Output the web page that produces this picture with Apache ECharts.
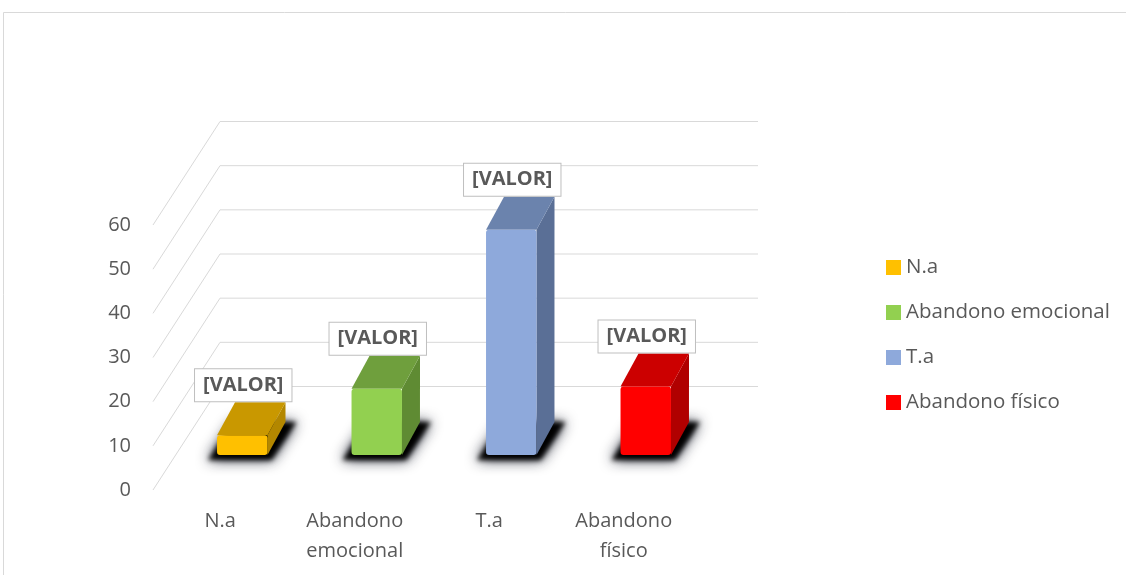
<!DOCTYPE html>
<html>
<head>
<meta charset="utf-8">
<script src="https://cdn.jsdelivr.net/npm/echarts@6/dist/echarts.min.js"></script>
<style>
  html, body { margin: 0; padding: 0; background: #fff; }
  #chart { width: 1126px; height: 575px; }
</style>
</head>
<body>
<div id="chart"></div>
<script>
  const cats = ['N.a', 'Abandono emocional', 'T.a', 'Abandono físico'];
  const axisLabels = ['N.a', 'Abandono\nemocional', 'T.a', 'Abandono\nfísico'];
  const values = [4.5, 15, 51, 15.5];
  const yTicks = [0, 10, 20, 30, 40, 50, 60];
  const frontColors = ['#FFC000', '#92D050', '#8EA9DB', '#FF0000'];
  const topColors = ['#C99800', '#6F9F3D', '#6B83AD', '#CC0000'];
  const sideColors = ['#B38700', '#5F8B33', '#5A6F96', '#B00000'];

  // oblique projection: front plane -> back wall, and bar placement / depth
  const WALL = [67, -103.5];
  const SHIFT = [22, -35];
  const DEPTH = [18, -33];
  const FONT = '"Open Sans", "Noto Sans", sans-serif';
  const FAR = 3000; // draw shadow shape off screen, keep only its blur

  let chart = echarts.init(document.getElementById('chart'));

  function renderWall(params, api) {
    const cs = params.coordSys;
    const p = api.coord([0, api.value(1)]);
    const fx = cs.x, fy = p[1];
    return {
      type: 'polyline',
      shape: {
        points: [[fx, fy], [fx + WALL[0], fy + WALL[1]], [cs.x + cs.width + WALL[0], fy + WALL[1]]]
      },
      style: { stroke: '#D9D9D9', lineWidth: 1, fill: null },
      silent: true
    };
  }

  function renderBar(params, api, k) {
    const i = api.value(0), v = api.value(1);
    const base = api.coord([i, 0]);
    const top = api.coord([i, v]);
    const band = api.size([1, 0])[0];
    const w = band * 0.375;
    const xl = base[0] - w / 2 + SHIFT[0];
    const xr = xl + w;
    const yb = base[1] + SHIFT[1];
    const yt = top[1] + SHIFT[1];
    const dx = DEPTH[0], dy = DEPTH[1];
    const sh = [[xl - 9, yb + 5], [xr + 4, yb + 5], [xr + dx + 11, yb + dy], [xl + dx - 2, yb + dy]];
    return {
      type: 'group',
      children: [
        {
          type: 'polygon',
          shape: { points: sh.map(p => [p[0] + FAR, p[1]]) },
          style: { fill: '#000', shadowBlur: 14, shadowColor: 'rgba(10,14,30,0.9)', shadowOffsetX: -FAR }
        },
        {
          type: 'polygon',
          shape: { points: sh.map(p => [p[0] + FAR, p[1]]) },
          style: { fill: '#000', shadowBlur: 5, shadowColor: 'rgba(0,0,0,1)', shadowOffsetX: -FAR }
        },
        {
          type: 'polygon',
          shape: { points: [[xr, yt], [xr + dx, yt + dy], [xr + dx, yb + dy], [xr, yb]] },
          style: { fill: sideColors[k] }
        },
        {
          type: 'polygon',
          shape: { points: [[xl, yt], [xl + dx, yt + dy], [xr + dx, yt + dy], [xr, yt]] },
          style: { fill: topColors[k] }
        },
        {
          type: 'rect',
          shape: { x: xl, y: yt, width: w, height: yb - yt, r: 3 },
          style: { fill: frontColors[k] }
        },
        {
          type: 'text',
          style: {
            text: '[VALOR]',
            x: base[0] + SHIFT[0] + 1,
            y: yt - 50,
            align: 'center',
            verticalAlign: 'middle',
            font: 'bold 20px ' + FONT,
            fill: '#595959',
            backgroundColor: '#fff',
            borderColor: '#BFBFBF',
            borderWidth: 1,
            padding: [6, 8]
          }
        }
      ]
    };
  }

  let option = {
    backgroundColor: '#fff',
    animation: false,
    graphic: [{
      type: 'rect',
      shape: { x: 3.5, y: 12.5, width: 1200, height: 700 },
      style: { fill: null, stroke: '#D9D9D9', lineWidth: 1 },
      silent: true
    }],
    legend: {
      data: cats,
      orient: 'vertical',
      left: 881,
      top: 250,
      icon: 'rect',
      itemWidth: 15,
      itemHeight: 15,
      itemGap: 20,
      textStyle: { fontSize: 20.5, color: '#595959', fontFamily: FONT, lineHeight: 25 }
    },
    grid: { left: 153, top: 225, width: 538, height: 265 },
    xAxis: {
      type: 'category',
      data: axisLabels,
      axisLine: { show: false },
      axisTick: { show: false },
      axisLabel: { fontSize: 20, color: '#595959', fontFamily: FONT, margin: 16, lineHeight: 30 }
    },
    yAxis: {
      type: 'value',
      min: 0,
      max: 60,
      interval: 10,
      axisLine: { show: false },
      axisTick: { show: false },
      splitLine: { show: false },
      axisLabel: { fontSize: 20, color: '#595959', fontFamily: FONT, margin: 22 }
    },
    series: [
      {
        type: 'custom',
        name: 'walls',
        z: 1,
        silent: true,
        data: yTicks.map(v => [0, v]),
        renderItem: renderWall
      }
    ].concat(cats.map((name, k) => ({
      type: 'custom',
      name: name,
      z: 2,
      itemStyle: { color: frontColors[k] },
      data: [[k, values[k]]],
      renderItem: (p, api) => renderBar(p, api, k)
    })))
  };

  chart.setOption(option);
</script>
</body>
</html>
